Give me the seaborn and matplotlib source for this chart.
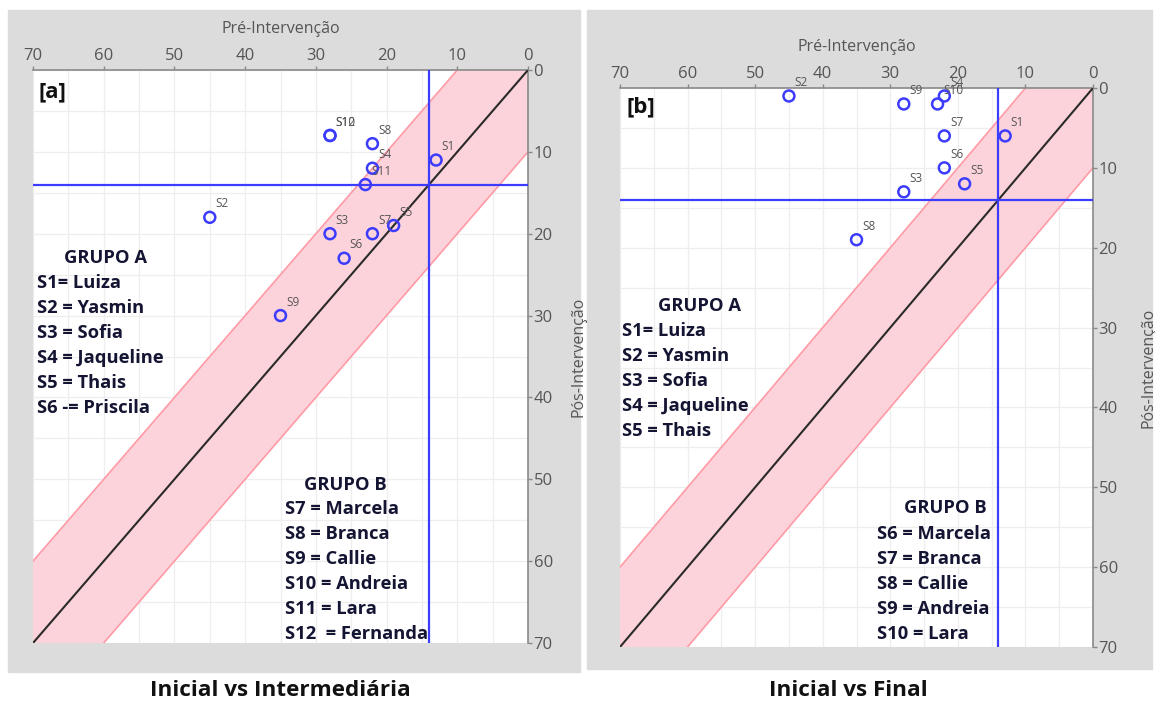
import matplotlib
matplotlib.use("Agg")
import matplotlib.pyplot as plt
import seaborn as sns
import numpy as np
import pandas as pd
from matplotlib.patches import Rectangle

sns.set_theme(style="white")
plt.rcParams['font.family'] = ['Open Sans', 'DejaVu Sans']

# ---- data -------------------------------------------------------------
labels_a = ["S1", "S2", "S3", "S4", "S5", "S6", "S7", "S8", "S9", "S10", "S11", "S12"]
pre_a = [13, 45, 28, 22, 19, 26, 22, 22, 35, 28, 23, 28]
post_a = [11, 18, 20, 12, 19, 23, 20, 9, 30, 8, 14, 8]

labels_b = ["S1", "S2", "S3", "S4", "S5", "S6", "S7", "S8", "S9", "S10"]
pre_b = [13, 45, 28, 22, 19, 22, 22, 35, 28, 23]
post_b = [6, 1, 13, 1, 12, 10, 6, 19, 2, 2]

cutoff = 14        # clinical cut-off on both axes
band_width = 10    # reliable-change band around the identity line
axis_ticks = [0, 10, 20, 30, 40, 50, 60, 70]

grupo_a_a = ["S1= Luiza", "S2 = Yasmin", "S3 = Sofia", "S4 = Jaqueline",
             "S5 = Thais", "S6 -= Priscila"]
grupo_b_a = ["S7 = Marcela", "S8 = Branca", "S9 = Callie", "S10 = Andreia",
             "S11 = Lara", "S12  = Fernanda"]
grupo_a_b = ["S1= Luiza", "S2 = Yasmin", "S3 = Sofia", "S4 = Jaqueline",
             "S5 = Thais"]
grupo_b_b = ["S6 = Marcela", "S7 = Branca", "S8 = Callie", "S9 = Andreia",
             "S10 = Lara"]

# ---- figure -------------------------------------------------------------
W, H = 1155, 702
fig = plt.figure(figsize=(W / 100, H / 100), dpi=100)
fig.patch.set_facecolor("white")


def fx(px):
    return px / W


def fy(py):
    return 1 - py / H


panel_grey = "#dcdcdc"
fig.patches.append(Rectangle((fx(8), fy(672)), 572 / W, 662 / H,
                             transform=fig.transFigure, color=panel_grey, zorder=-10))
fig.patches.append(Rectangle((fx(587), fy(669)), 565 / W, 659 / H,
                             transform=fig.transFigure, color=panel_grey, zorder=-10))

ax_a = fig.add_axes([fx(33), fy(643), 495 / W, 573 / H])
ax_b = fig.add_axes([fx(620), fy(647), 473 / W, 559 / H])

tick_grey = "#555555"
blue = "#3c3cff"
pink_fill = "#fdd3db"
pink_edge = "#ff9aa6"


def draw_panel(ax, pre, post, labels, ylabel_pad):
    ax.set_facecolor("white")
    xs = np.array([0, 70])
    ax.fill_between(xs, xs - band_width, xs + band_width, color=pink_fill, lw=0, zorder=1)
    sns.lineplot(x=xs, y=xs - band_width, ax=ax, color=pink_edge, lw=1.2, zorder=2)
    sns.lineplot(x=xs, y=xs + band_width, ax=ax, color=pink_edge, lw=1.2, zorder=2)
    sns.lineplot(x=xs, y=xs, ax=ax, color="#2a2a2a", lw=1.5, zorder=3)
    ax.axvline(cutoff, color=blue, lw=1.6, zorder=3)
    ax.axhline(cutoff, color=blue, lw=1.6, zorder=3)

    df = pd.DataFrame({"pre": pre, "post": post, "label": labels})
    sns.scatterplot(data=df, x="pre", y="post", ax=ax, marker="o", s=62,
                    facecolor="none", edgecolor=blue, linewidth=1.8, zorder=5)
    for _, r in df.iterrows():
        ax.annotate(r["label"], (r["pre"], r["post"]), xytext=(4, 5),
                    textcoords="offset points", fontsize=8.5, color="#555555",
                    ha="left", va="bottom", zorder=6)

    ax.set_xlim(70, 0)
    ax.set_ylim(70, 0)
    ax.set_xticks(axis_ticks)
    ax.set_yticks(axis_ticks)
    ax.set_xticks(np.arange(0, 71, 5), minor=True)
    ax.set_yticks(np.arange(0, 71, 5), minor=True)
    ax.grid(True, which="both", color="#eeeeee", lw=0.9, zorder=0)
    ax.set_axisbelow(True)
    ax.xaxis.tick_top()
    ax.yaxis.tick_right()
    ax.xaxis.set_label_position("top")
    ax.yaxis.set_label_position("right")
    ax.tick_params(which="major", direction="out", length=3, width=1, color="#888888",
                   labelsize=12, labelcolor=tick_grey, pad=1)
    ax.tick_params(which="minor", length=0)
    ax.set_xlabel("Pré-Intervenção", fontsize=11.5, color=tick_grey, labelpad=11)
    ax.set_ylabel("Pós-Intervenção", fontsize=11.5, color=tick_grey, labelpad=ylabel_pad)
    for side in ("left", "bottom"):
        ax.spines[side].set_visible(False)
    for side in ("top", "right"):
        ax.spines[side].set_color("#8a8a8a")
        ax.spines[side].set_linewidth(1.2)


draw_panel(ax_a, pre_a, post_a, labels_a, 13)
draw_panel(ax_b, pre_b, post_b, labels_b, 16)

# ---- group legends ------------------------------------------------------
ink = "#141433"
legend_font = dict(family=["Open Sans", "DejaVu Sans"], fontweight="bold", fontsize=13.2, color=ink)


def group_block(title, title_x, title_y, lines, left_x, first_y):
    fig.text(fx(title_x), fy(title_y), title, ha="center", va="center", **legend_font)
    for i, line in enumerate(lines):
        fig.text(fx(left_x), fy(first_y + 25 * i), line, ha="left", va="center", **legend_font)


group_block("GRUPO A", 106, 258, grupo_a_a, 37, 283)
group_block("GRUPO B", 345, 485, grupo_b_a, 285, 509)
group_block("GRUPO A", 700, 306, grupo_a_b, 622, 331)
group_block("GRUPO B", 945, 508, grupo_b_b, 877, 534)

tag_font = dict(family=["Open Sans", "DejaVu Sans"], fontweight="bold", fontsize=16, color="#111111")
fig.text(fx(39), fy(92), "[a]", ha="left", va="center", **tag_font)
fig.text(fx(626), fy(107), "[b]", ha="left", va="center", **tag_font)

title_font = dict(family=["Open Sans", "DejaVu Sans"], fontweight="bold", fontsize=16.2, color="#111111")
fig.text(fx(280), fy(690), "Inicial vs Intermediária", ha="center", va="center", **title_font)
fig.text(fx(848), fy(690), "Inicial vs Final", ha="center", va="center", **title_font)

fig.savefig("out.png", dpi=100, facecolor=fig.get_facecolor())
